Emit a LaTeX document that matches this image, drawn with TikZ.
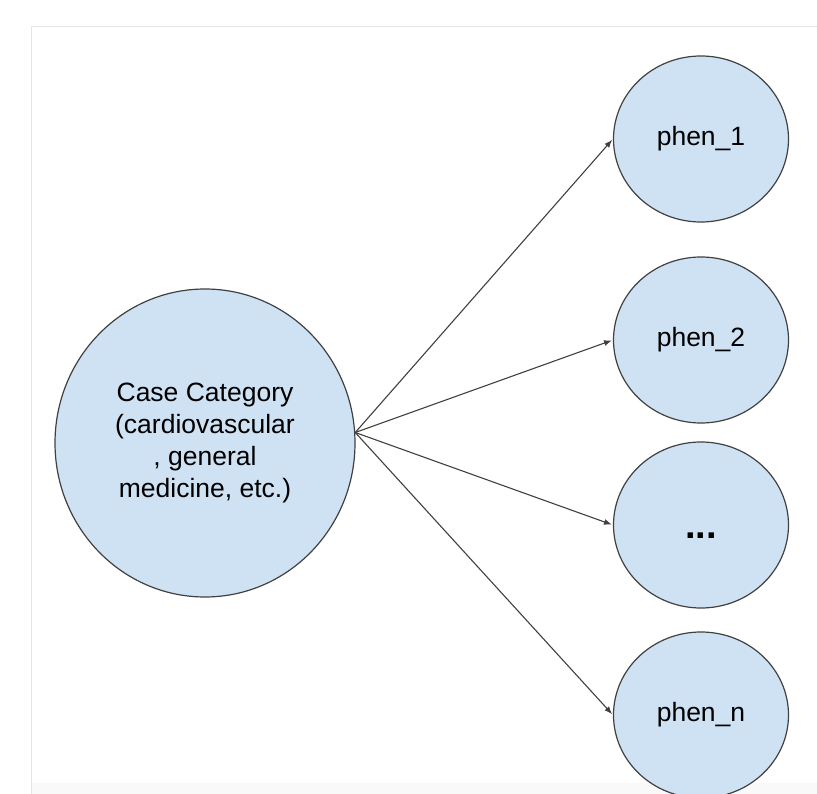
\documentclass[tikz,border=0pt]{standalone}
\usepackage{fontspec}
\setmainfont{Liberation Sans}
\usetikzlibrary{shapes.geometric,arrows.meta}
\definecolor{nodeblue}{HTML}{CFE2F3}
\definecolor{edgegray}{HTML}{404040}

\begin{document}
\begin{tikzpicture}[x=1pt,y=1pt,shorten >=1pt,-{Latex[length=8pt,width=6pt]}]
    \tikzstyle{vertex}=[ellipse,draw=edgegray,line width=1.2pt,fill=nodeblue,minimum width=175pt,minimum height=166pt,inner sep=0pt,align=center,font=\fontsize{26.5}{32}\selectfont]
    \useasboundingbox (0,0) rectangle (817,-794);
    \fill[gray!5] (32,-783) rectangle (817,-794);
    \draw[-,shorten >=0pt,gray!20,line width=1pt] (31,-794) -- (31,-27) -- (817,-27);

    \node[vertex,minimum width=300pt,minimum height=308pt] (case) at (205,-443)
        {Case Category\\(cardiovascular\\, general\\medicine, etc.)};
    \foreach \num/\txt/\y in {1/phen\_1/139, 2/phen\_2/340, 3/{\fontsize{38}{40}\selectfont\bfseries\vphantom{h}...}/525, n/phen\_n/715}
            \node[vertex] (P-\num) at (701,-\y) {\txt};

        \foreach \num in {1,2,3,n}
            \draw[edgegray,line width=1.1pt] (case.4) -- (P-\num.west);
\end{tikzpicture}
\end{document}
